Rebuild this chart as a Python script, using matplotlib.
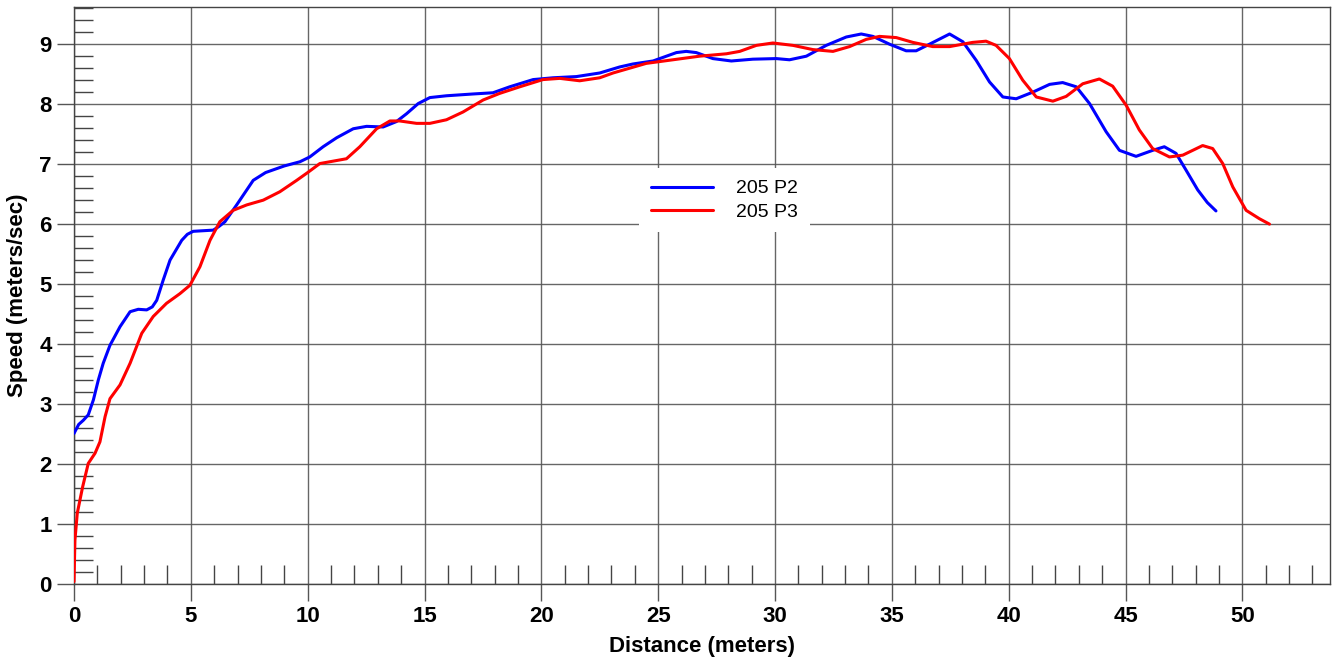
import matplotlib
matplotlib.use("Agg")
import matplotlib.pyplot as plt
from matplotlib.ticker import MultipleLocator

plt.rcParams['font.family'] = ['Liberation Sans', 'DejaVu Sans']

p2_x = [0.0, 0.2, 0.4, 0.61, 0.83, 1.04, 1.25, 1.54, 1.97, 2.40, 2.75, 3.11, 3.35, 3.54, 3.82, 4.11, 4.61,
        4.85, 5.10, 5.96, 6.2, 6.46, 6.96, 7.67, 8.2, 9.0, 9.67, 10.09, 10.66, 11.24, 11.95, 12.52, 13.23,
        13.80, 14.23, 14.73, 15.23, 15.94, 17.08, 17.93, 18.65, 19.65, 20.50, 21.50, 22.50,
        23.35, 23.92, 24.78, 25.78, 26.2, 26.63, 27.34, 28.13, 29.05, 30.05, 30.62, 31.34,
        32.19, 33.05, 33.69, 34.19, 34.9, 35.61, 36.04, 36.61, 37.47, 38.04, 38.61, 39.18,
        39.75, 40.32, 41.03, 41.75, 42.31, 42.89, 43.46, 44.17, 44.74, 45.45, 46.16, 46.66,
        47.16, 47.59, 48.09, 48.5, 48.87]
p2_y = [2.51, 2.66, 2.73, 2.82, 3.07, 3.40, 3.68, 3.98, 4.29, 4.54, 4.58, 4.57, 4.62, 4.73, 5.07, 5.40, 5.73,
        5.83, 5.88, 5.90, 5.96, 6.04, 6.32, 6.73, 6.86, 6.97, 7.04, 7.12, 7.29, 7.44, 7.59, 7.63, 7.62,
        7.71, 7.84, 8.01, 8.11, 8.14, 8.17, 8.19, 8.29, 8.41, 8.44, 8.46, 8.52,
        8.62, 8.67, 8.72, 8.86, 8.88, 8.86, 8.76, 8.72, 8.75, 8.76, 8.74, 8.80,
        8.98, 9.12, 9.17, 9.13, 9.00, 8.89, 8.89, 9.00, 9.17, 9.04, 8.73, 8.37,
        8.12, 8.09, 8.20, 8.33, 8.36, 8.29, 8.01, 7.54, 7.23, 7.13, 7.23, 7.29,
        7.18, 6.90, 6.57, 6.36, 6.22]

p3_x = [0.0, 0.04, 0.14, 0.37, 0.61, 0.9, 1.11, 1.33, 1.54, 1.97, 2.40, 2.90, 3.39, 3.96, 4.53,
        4.96, 5.39, 5.82, 6.24, 6.81, 7.39, 8.1, 8.81, 9.53, 10.0, 10.52, 11.09, 11.66, 12.23,
        12.95, 13.52, 13.94, 14.66, 15.23, 15.94, 16.65, 17.51, 18.22, 19.08, 20.07, 20.79,
        21.64, 22.5, 23.07, 24.49, 25.63, 26.77, 27.92, 28.49, 29.20, 29.91, 30.77, 31.62,
        32.48, 33.19, 33.90, 34.47, 35.19, 35.90, 36.75, 37.47, 38.46, 39.03, 39.46, 40.03,
        40.60, 41.18, 41.89, 42.46, 43.17, 43.88, 44.45, 45.03, 45.59, 46.16, 46.88, 47.45,
        48.30, 48.73, 49.16, 49.59, 50.16, 50.73, 51.16]
p3_y = [0.04, 0.73, 1.18, 1.62, 2.01, 2.18, 2.37, 2.79, 3.09, 3.32, 3.68, 4.18, 4.46, 4.68, 4.84,
        4.98, 5.29, 5.73, 6.04, 6.23, 6.32, 6.40, 6.54, 6.73, 6.86, 7.01, 7.05, 7.09, 7.29,
        7.59, 7.72, 7.72, 7.68, 7.68, 7.74, 7.87, 8.07, 8.18, 8.29, 8.41, 8.43,
        8.39, 8.44, 8.52, 8.68, 8.74, 8.80, 8.84, 8.88, 8.98, 9.02, 8.98, 8.91,
        8.88, 8.96, 9.08, 9.13, 9.11, 9.03, 8.96, 8.96, 9.03, 9.05, 8.98, 8.76,
        8.40, 8.12, 8.05, 8.13, 8.34, 8.42, 8.30, 7.98, 7.57, 7.26, 7.12, 7.15,
        7.31, 7.26, 7.01, 6.62, 6.23, 6.09, 6.00]

x_ticks = [0, 5, 10, 15, 20, 25, 30, 35, 40, 45, 50]
y_ticks = [0, 1, 2, 3, 4, 5, 6, 7, 8, 9]

fig = plt.figure(figsize=(13.32, 6.6), dpi=100)
ax = fig.add_axes([74 / 1332, (660 - 584) / 660, 1256 / 1332, 577 / 660])

ax.plot(p2_x, p2_y, color='#0000ff', lw=2.2, label='205 P2', zorder=3,
        solid_joinstyle='round', solid_capstyle='round')
ax.plot(p3_x, p3_y, color='#ff0000', lw=2.2, label='205 P3', zorder=3,
        solid_joinstyle='round', solid_capstyle='round')

ax.set_xlim(0, 53.75)
ax.set_ylim(0, 9.62)
ax.set_xticks(x_ticks)
ax.set_yticks(y_ticks)
ax.xaxis.set_minor_locator(MultipleLocator(1))
ax.yaxis.set_minor_locator(MultipleLocator(0.2))
ax.grid(True, which='major', color='#555555', lw=1.0, alpha=0.9)
ax.tick_params(which='major', direction='out', length=12, width=1.0, color='#555555',
               labelsize=16, pad=4)
ax.tick_params(which='minor', direction='in', length=14, width=1.0, color='#444444')
for lab in ax.get_xticklabels() + ax.get_yticklabels():
    lab.set_fontweight('bold')
for s in ax.spines.values():
    s.set_color('#444444')
    s.set_linewidth(1.0)

ax.set_xlabel('Distance (meters)', fontsize=16, fontweight='bold', labelpad=6)
ax.set_ylabel('Speed (meters/sec)', fontsize=16, fontweight='bold', labelpad=8)

leg = ax.legend(loc='center', bbox_to_anchor=(0.518, 0.665), fontsize=14, frameon=True,
                fancybox=False, handlelength=3.2, handletextpad=1.2, borderpad=0.6,
                labelspacing=0.3)
leg.get_frame().set_edgecolor('none')
leg.get_frame().set_facecolor('white')
leg.get_frame().set_alpha(1.0)

fig.savefig('out.png', dpi=100)
